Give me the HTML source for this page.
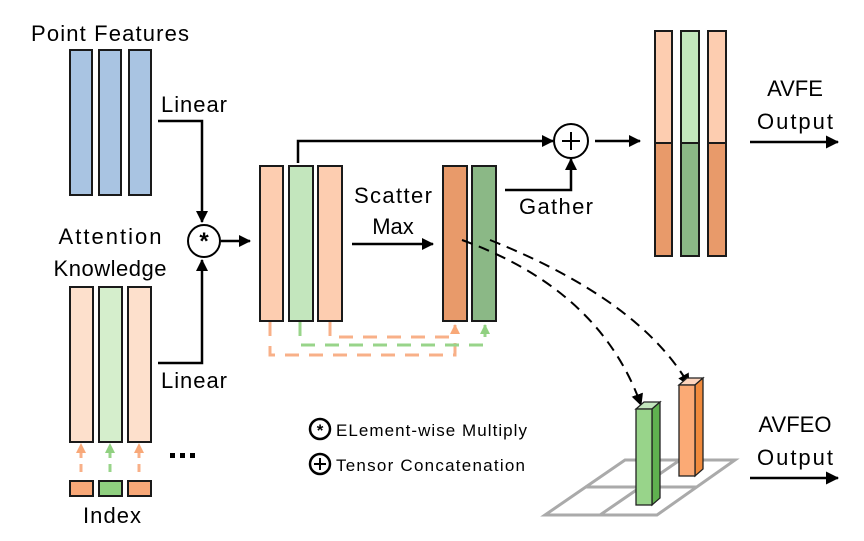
<!DOCTYPE html>
<html><head><meta charset="utf-8"><style>body{margin:0;background:#fff}svg{display:block}text{font-family:"Liberation Sans",sans-serif;fill:#000}</style></head><body>
<svg width="864" height="541" viewBox="0 0 864 541" xmlns="http://www.w3.org/2000/svg">
<defs>
<marker id="a" markerWidth="12" markerHeight="12" refX="11" refY="6" orient="auto" markerUnits="userSpaceOnUse"><path d="M0,0L12,6L0,12z" fill="#000"/></marker>
<marker id="ab" markerWidth="13" markerHeight="13" refX="12" refY="6.5" orient="auto" markerUnits="userSpaceOnUse"><path d="M0,0L13,6.5L0,13z" fill="#000"/></marker>
<marker id="ao" markerWidth="10" markerHeight="10" refX="9" refY="5" orient="auto" markerUnits="userSpaceOnUse"><path d="M0,0L10,5L0,10z" fill="#f8a878"/></marker>
<marker id="ag" markerWidth="10" markerHeight="10" refX="9" refY="5" orient="auto" markerUnits="userSpaceOnUse"><path d="M0,0L10,5L0,10z" fill="#90d080"/></marker>
</defs>
<g stroke="#1a1a1a" stroke-width="2">
<rect x="70" y="50" width="22" height="145" fill="#a9c4e2"/>
<rect x="99" y="50" width="22" height="145" fill="#a9c4e2"/>
<rect x="129" y="50" width="22" height="145" fill="#a9c4e2"/>
<rect x="70" y="287" width="23" height="155" fill="#fde0cc"/>
<rect x="99" y="287" width="23" height="155" fill="#d5eecc"/>
<rect x="128" y="287" width="23" height="155" fill="#fde0cc"/>
<rect x="70" y="481" width="23" height="15" fill="#f8a878"/>
<rect x="99" y="481" width="23" height="15" fill="#90d080"/>
<rect x="128" y="481" width="23" height="15" fill="#f8a878"/>
<rect x="260" y="166" width="23" height="155" fill="#fdcdb0"/>
<rect x="289" y="166" width="24" height="155" fill="#c3e6bd"/>
<rect x="318" y="166" width="24" height="155" fill="#fdcdb0"/>
<rect x="443" y="166" width="24" height="155" fill="#e89a6a"/>
<rect x="472" y="166" width="24" height="155" fill="#8bb886"/>
<rect x="655" y="31" width="17" height="112" fill="#fdcdb0"/>
<rect x="655" y="143" width="17" height="113" fill="#e89a6a"/>
<rect x="681" y="31" width="18" height="112" fill="#c3e6bd"/>
<rect x="681" y="143" width="18" height="113" fill="#8bb886"/>
<rect x="708" y="31" width="18" height="112" fill="#fdcdb0"/>
<rect x="708" y="143" width="18" height="113" fill="#e89a6a"/>
</g>
<g stroke="#000" stroke-width="2.5" fill="none">
<path d="M158 121H202V222" marker-end="url(#a)"/>
<path d="M158 363H202V260" marker-end="url(#a)"/>
<path d="M221 241H250" marker-end="url(#a)"/>
<path d="M298 163V141H553" marker-end="url(#a)"/>
<path d="M505 190H571V159" marker-end="url(#a)"/>
<path d="M595 141H640" marker-end="url(#a)"/>
<path d="M352 244H433" marker-end="url(#a)"/>
<path d="M750 142H838" marker-end="url(#ab)"/>
<path d="M750 478H838" marker-end="url(#ab)"/>
<circle cx="204" cy="241" r="16" stroke-width="2"/>
<circle cx="571" cy="141" r="17" stroke-width="2"/>
<path d="M562 141H580M571 132V150" stroke-width="2"/>
</g>
<text x="204" y="249" font-size="24" text-anchor="middle" font-weight="bold">*</text>
<g stroke="#000" stroke-width="2" fill="none" stroke-dasharray="11,7">
<path d="M462 240Q600 290 641 405" marker-end="url(#a)"/>
<path d="M490 240Q640 300 689 385" marker-end="url(#a)"/>
</g>
<g stroke-width="3" fill="none">
<path d="M270 322V355H455V325" stroke="#f8b088" stroke-dasharray="14,10" marker-end="url(#ao)"/>
<path d="M300 322V345H485V325" stroke="#98d48a" stroke-dasharray="14,10" marker-end="url(#ag)"/>
<path d="M330 322V337H455" stroke="#f8b088" stroke-dasharray="14,10"/>
<path d="M81 472V444" stroke="#f8b088" stroke-dasharray="8,6" marker-end="url(#ao)"/>
<path d="M110 472V444" stroke="#98d48a" stroke-dasharray="8,6" marker-end="url(#ag)"/>
<path d="M139 472V444" stroke="#f8b088" stroke-dasharray="8,6" marker-end="url(#ao)"/>
</g>
<g stroke="#aaa" stroke-width="3" fill="none">
<path d="M545 515H657L735 460H625Z"/>
<path d="M585 487H696M600 515L680 460"/>
</g>
<g stroke="#222" stroke-width="1.3">
<path d="M636 409L644 402H660L652 409Z" fill="#c3e6bd"/>
<path d="M652 409L660 402V498L652 505Z" fill="#5fb14f"/>
<rect x="636" y="409" width="16" height="96" fill="#98d48a"/>
<path d="M679 385L687 378H703L695 385Z" fill="#fdd5bd"/>
<path d="M695 385L703 378V469L695 476Z" fill="#f08a3c"/>
<rect x="679" y="385" width="16" height="91" fill="#fbaa75"/>
</g>
<g stroke="#000" stroke-width="2.5" fill="none">
<circle cx="320" cy="429" r="10"/>
<circle cx="320" cy="464" r="10"/>
<path d="M314 464H326M320 458V470" stroke-width="2"/>
</g>
<text x="320" y="436" font-size="17" text-anchor="middle" font-weight="bold">*</text>
<g font-size="17">
<text x="336" y="436" textLength="191">ELement-wise Multiply</text>
<text x="336" y="471" textLength="189">Tensor  Concatenation</text>
</g>
<g font-size="22">
<text x="110" y="41" text-anchor="middle" textLength="158">Point Features</text>
<text x="161" y="112" textLength="66">Linear</text>
<text x="110" y="244" text-anchor="middle" textLength="103">Attention</text>
<text x="110" y="276" text-anchor="middle" textLength="113">Knowledge</text>
<text x="161" y="388" textLength="66">Linear</text>
<text x="112" y="523" text-anchor="middle" textLength="58">Index</text>
<text x="393" y="203" text-anchor="middle" textLength="78">Scatter</text>
<text x="393" y="234" text-anchor="middle">Max</text>
<text x="556" y="214" text-anchor="middle" textLength="74">Gather</text>
<text x="795" y="96" text-anchor="middle">AVFE</text>
<text x="795" y="129" text-anchor="middle" textLength="76">Output</text>
<text x="795" y="432" text-anchor="middle">AVFEO</text>
<text x="795" y="465" text-anchor="middle" textLength="76">Output</text>
</g>
<g fill="#000"><rect x="170" y="453" width="5" height="5"/><rect x="180" y="453" width="5" height="5"/><rect x="190" y="453" width="5" height="5"/></g>
</svg>
</body></html>
